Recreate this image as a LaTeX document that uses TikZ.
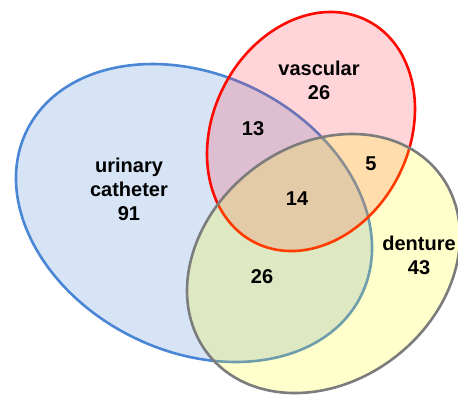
\documentclass[tikz,border=0pt]{standalone}
\usepackage{fontspec}
\setmainfont{Liberation Sans}
\usetikzlibrary{shapes.geometric}
\definecolor{bluefill}{RGB}{214,228,245}
\definecolor{bluedraw}{RGB}{74,134,214}
\definecolor{redfill}{RGB}{255,45,65}
\definecolor{reddraw}{RGB}{255,10,0}
\definecolor{yelfill}{RGB}{255,255,0}
\definecolor{graydraw}{RGB}{124,124,124}
\begin{document}
\begin{tikzpicture}[x=1bp,y=-1bp,
  setshape/.style={ellipse, inner sep=0pt, outer sep=0pt, line width=2.6bp},
  lbl/.style={font=\fontsize{20bp}{24bp}\selectfont\bfseries, align=center, anchor=base, inner sep=0pt}]
\useasboundingbox (0,0) rectangle (458,394);
\fill[white] (0,0) rectangle (458,394);
% urinary catheter
\node[setshape, draw=bluedraw, fill=bluefill, minimum width=372.8bp, minimum height=276.6bp, rotate=-26.3] (uc) at (194,213) {};
% vascular
\node[setshape, draw=reddraw, fill=redfill, fill opacity=0.2, minimum width=248.8bp, minimum height=196.2bp, rotate=63.2] (va) at (311,131.5) {};
% denture
\node[setshape, draw=graydraw, fill=yelfill, fill opacity=0.2, minimum width=293.4bp, minimum height=235.6bp, rotate=38] (de) at (323.5,263.5) {};
% labels
\node[lbl] (tva) at (319,99) {vascular\\26};
\node[lbl] (tuc) at (129,220) {urinary\\catheter\\91};
\node[lbl] (t13) at (253,135) {13};
\node[lbl] (t5) at (371,170) {5};
\node[lbl] (t14) at (297,205) {14};
\node[lbl] (t26) at (262,283) {26};
\node[lbl] (tde) at (419,274) {denture\\43};
\end{tikzpicture}
\end{document}
